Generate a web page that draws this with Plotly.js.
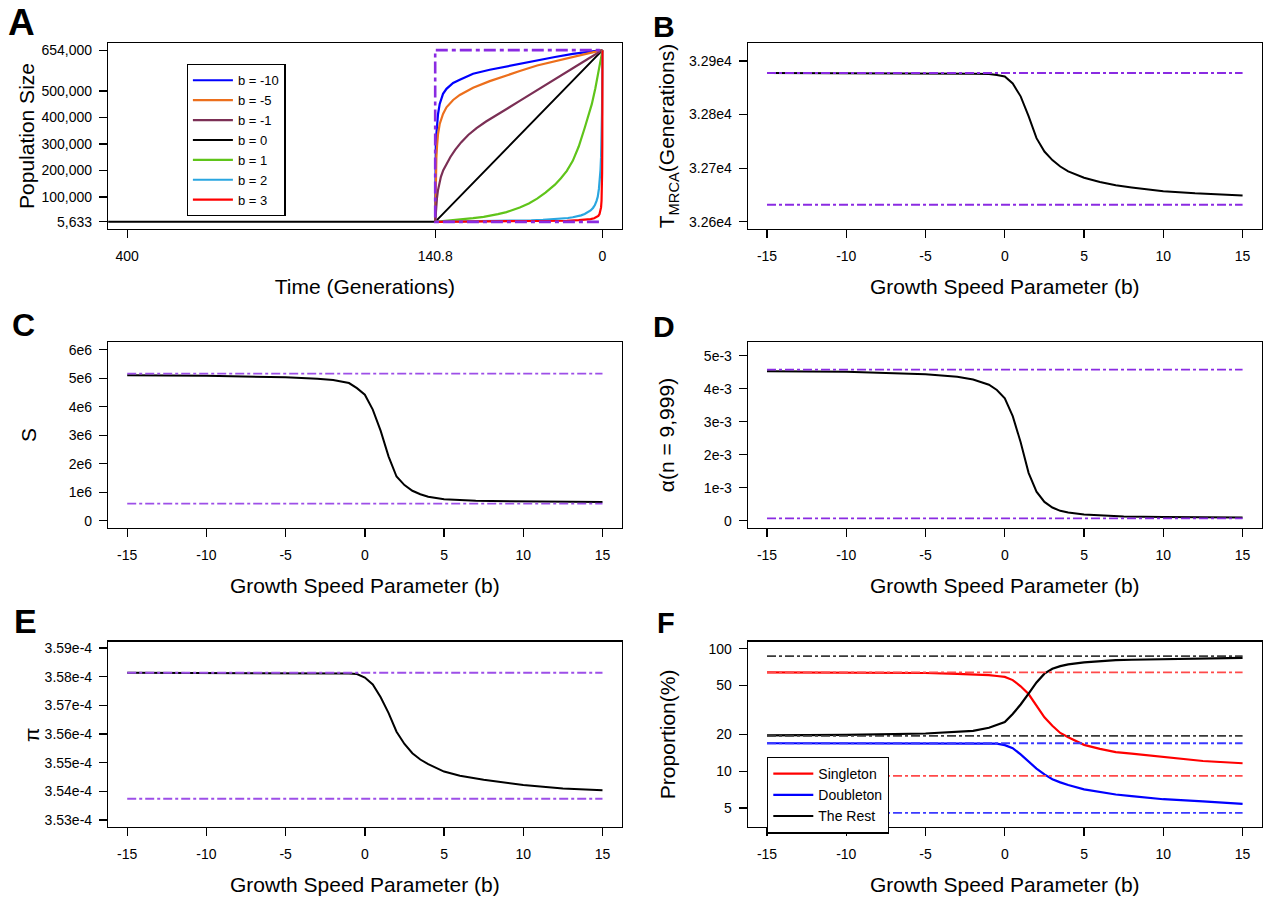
<!DOCTYPE html>
<html><head><meta charset="utf-8">
<script src="https://cdn.plot.ly/plotly-3.0.1.min.js"></script>
<style>html,body{margin:0;padding:0;background:#fff}#chart{width:1266px;height:898px}</style>
</head><body><div id="chart"></div>
<script>
// ---------- Panel A : population size trajectories ----------
const legendLabelsA = ["b = -10", "b = -5", "b = -1", "b = 0", "b = 1", "b = 2", "b = 3"];
const tBm10 = [140.8, 140.75, 140.6, 140.3, 139.8, 139.2, 138.4, 137.0, 134.2, 131.3, 125.7, 120.1, 108.9, 94.9, 80.8, 69.6, 55, 40, 25, 12, 0];
const popBm10 = [5633, 120000, 230000, 290000, 336000, 376000, 413000, 451000, 489000, 508000, 530000, 542000, 565000, 580000, 593000, 603000, 616000, 628000, 640000, 647000, 654000];
const tBm5 = [140.8, 140.7, 140.6, 140.4, 140.2, 139.8, 139.2, 138.4, 137.0, 134.2, 131.3, 125.7, 120.1, 108.9, 94.9, 80.8, 69.6, 55, 40, 25, 12, 0];
const popBm5 = [5633, 65000, 110000, 160000, 200000, 248000, 295000, 337000, 375000, 413000, 438000, 466000, 485000, 512000, 537000, 559000, 575000, 596000, 613000, 628000, 642000, 654000];
const tBm1 = [140.8, 140.5, 140.0, 139.3, 138.5, 137.5, 136.0, 134.0, 131.3, 128.0, 124.0, 119.0, 113.0, 106.0, 98.0, 90.0, 80.0, 70.0, 55.0, 40.0, 25.0, 12.0, 0];
const popBm1 = [5633, 30600, 60600, 95600, 123600, 150600, 175600, 200600, 225600, 250600, 277600, 305600, 333600, 359600, 384600, 407600, 433600, 461600, 503600, 545600, 585600, 621600, 654000];
const tB0 = [420, 140.8, 0];
const popB0 = [5633, 5633, 654000];
const tB1 = [140.8, 130, 122.9, 115, 108.9, 100, 94.9, 88, 80.8, 75, 69.6, 62, 55, 48, 40, 35, 30, 25, 20, 15, 12, 9, 6, 3, 0];
const popB1 = [5633, 9500, 13000, 16500, 19500, 24500, 28500, 34500, 42500, 51000, 60000, 75000, 93000, 116000, 146000, 170000, 198000, 236000, 290000, 360000, 405000, 450000, 510000, 575000, 654000];
const tB2 = [140.8, 120, 100, 85, 70, 60, 50, 42, 35, 29, 25, 21, 18, 15, 12, 10, 8, 6.5, 5, 4, 3, 2.3, 1.7, 1.2, 0.8, 0.4, 0];
const popB2 = [5633, 6500, 7500, 8600, 10000, 11300, 13000, 14800, 17200, 20000, 23000, 26500, 30000, 35000, 42000, 48500, 58000, 68000, 85000, 100000, 130000, 160000, 200000, 250000, 310000, 420000, 654000];
const tB3 = [140.8, 100, 70, 45, 30, 20, 14, 10, 7, 5, 3.5, 2.5, 1.8, 1.2, 0.8, 0.5, 0.3, 0.15, 0];
const popB3 = [5633, 6200, 7000, 8300, 9800, 11800, 13800, 16000, 19000, 23000, 28000, 35000, 44000, 60000, 85000, 125000, 190000, 300000, 654000];
const tLimit = [3, 140.8, 140.8, 0];
const popLimit = [5633, 5633, 654000, 654000];
const xTicksA = [400, 140.8, 0];
const xTickTextA = ["400", "140.8", "0"];
const yTicksA = [5633, 100000, 200000, 300000, 400000, 500000, 654000];
const yTickTextA = ["5,633", "100,000", "200,000", "300,000", "400,000", "500,000", "654,000"];

// ---------- Panels B-F : statistics vs growth speed parameter b ----------
const bTicks = [-15, -10, -5, 0, 5, 10, 15];
const bTickText = ["-15", "-10", "-5", "0", "5", "10", "15"];
const bLimits = [-15, 15];

const bB = [-15, -10, -5, -4, -3, -2, -1, -0.5, 0, 0.5, 1, 1.5, 2, 2.5, 3, 3.5, 4, 5, 6, 7, 8, 10, 12, 15];
const tmrca = [32877.6, 32877.6, 32877.3, 32876.5, 32876.4, 32876.3, 32875.5, 32874, 32871, 32858, 32834, 32797, 32756, 32731, 32715, 32703, 32694, 32682, 32674, 32668, 32664, 32657, 32653, 32649];
const tmrcaConst = [32877.6, 32877.6];
const tmrcaInst = [32631.7, 32631.7];
const yTicksB = [32600, 32700, 32800, 32900];
const yTickTextB = ["3.26e4", "3.27e4", "3.28e4", "3.29e4"];

const bC = [-15, -10, -5, -4, -3, -2, -1, -0.5, 0, 0.5, 1, 1.5, 2, 2.5, 3, 3.5, 4, 5, 6, 7, 8, 10, 12, 15];
const segSites = [5.10e6, 5.09e6, 5.03e6, 5.01e6, 4.98e6, 4.94e6, 4.83e6, 4.65e6, 4.42e6, 3.90e6, 3.15e6, 2.25e6, 1.55e6, 1.25e6, 1.05e6, 0.93e6, 0.84e6, 0.75e6, 0.72e6, 0.70e6, 0.69e6, 0.68e6, 0.67e6, 0.655e6];
const segConst = [5.158e6, 5.158e6];
const segInst = [0.597e6, 0.597e6];
const yTicksC = [0, 1e6, 2e6, 3e6, 4e6, 5e6, 6e6];
const yTickTextC = ["0", "1e6", "2e6", "3e6", "4e6", "5e6", "6e6"];

const bD = [-15, -10, -5, -3, -2, -1, -0.5, 0, 0.5, 1, 1.5, 2, 2.5, 3, 3.5, 4, 5, 6, 7.5, 10, 12, 15];
const alphaN = [4.53e-3, 4.51e-3, 4.44e-3, 4.36e-3, 4.28e-3, 4.12e-3, 3.96e-3, 3.71e-3, 3.17e-3, 2.38e-3, 1.45e-3, 0.88e-3, 0.57e-3, 0.40e-3, 0.30e-3, 0.25e-3, 0.19e-3, 0.16e-3, 0.13e-3, 0.11e-3, 0.105e-3, 0.10e-3];
const alphaConst = [4.576e-3, 4.576e-3];
const alphaInst = [0.073e-3, 0.073e-3];
const yTicksD = [0, 1e-3, 2e-3, 3e-3, 4e-3, 5e-3];
const yTickTextD = ["0", "1e-3", "2e-3", "3e-3", "4e-3", "5e-3"];

const bE = [-15, -10, -8, -5, -2, -1, -0.5, 0, 0.5, 1, 1.5, 2, 2.5, 3, 3.5, 4, 5, 6, 7.5, 10, 12.5, 15];
const piVals = [3.58136e-4, 3.58130e-4, 3.58125e-4, 3.5812e-4, 3.5812e-4, 3.5811e-4, 3.5809e-4, 3.5797e-4, 3.5773e-4, 3.5728e-4, 3.5673e-4, 3.5608e-4, 3.5565e-4, 3.5533e-4, 3.5511e-4, 3.5495e-4, 3.5469e-4, 3.5454e-4, 3.5440e-4, 3.5422e-4, 3.5410e-4, 3.5404e-4];
const piConst = [3.58136e-4, 3.58136e-4];
const piInst = [3.53741e-4, 3.53741e-4];
const yTicksE = [3.53e-4, 3.54e-4, 3.55e-4, 3.56e-4, 3.57e-4, 3.58e-4, 3.59e-4];
const yTickTextE = ["3.53e-4", "3.54e-4", "3.55e-4", "3.56e-4", "3.57e-4", "3.58e-4", "3.59e-4"];

const bF = [-15, -10, -5, -3, -2, -1, -0.5, 0, 0.5, 1, 1.5, 2, 2.5, 3, 3.5, 4, 5, 6, 7, 8, 10, 12.5, 15];
const singleton = [64.1, 64.0, 63.3, 62.3, 61.8, 60.8, 59.8, 58.8, 55.4, 49.3, 42.6, 34.0, 27.5, 23.5, 20.5, 18.9, 16.4, 15.2, 14.3, 13.9, 13.1, 12.1, 11.6];
const doubleton = [16.9, 16.9, 16.9, 16.9, 16.9, 16.85, 16.8, 16.3, 15.4, 13.7, 11.9, 10.5, 9.4, 8.6, 8.1, 7.7, 7.1, 6.75, 6.45, 6.25, 5.9, 5.67, 5.41];
const theRest = [19.6, 19.8, 20.3, 20.8, 21.3, 22.6, 23.8, 25.2, 29.3, 35.0, 43.0, 53.0, 62.5, 68.5, 72.0, 74.5, 77.3, 79.3, 80.5, 81.2, 82.3, 83.3, 84.0];
const singletonConst = [64.1, 64.1], singletonInst = [9.16, 9.16];
const doubletonConst = [16.9, 16.9], doubletonInst = [4.57, 4.57];
const restConst = [19.4, 19.4], restInst = [87.0, 87.0];
const legendLabelsF = ["Singleton", "Doubleton", "The Rest"];
const yTicksF = [5, 10, 20, 50, 100];
const yTickTextF = ["5", "10", "20", "50", "100"];

// ---------- styling ----------
const FONT = "Arial, 'Liberation Sans', Helvetica, sans-serif";
const PURPLE = "#8a2be2";
const PURPLE_L = "#9d4fe8";
const DASHDOT = "9px,3px,3px,3px";
const W = 1266, H = 898;
const px = v => v / W;
const py = v => 1 - v / H;
const colL = [px(108.2), px(621.5)];
const colR = [px(748), px(1261.6)];
const row1 = [py(228.7), py(43.3)];
const row2 = [py(528), py(342)];
const row3 = [py(827), py(641.7)];

function line(x, y, color, width, dash, xa, ya, name, legend) {
  const t = {x: x, y: y, type: 'scatter', mode: 'lines', xaxis: xa, yaxis: ya,
    line: {color: color, width: width, dash: dash || 'solid'}, hoverinfo: 'skip', showlegend: false};
  if (name) { t.name = name; t.showlegend = true; t.legend = legend; }
  return t;
}

const data = [
  line(tB0, popB0, '#000000', 2, null, 'x', 'y', legendLabelsA[3], 'legend'),
  line(tBm10, popBm10, '#0000ff', 2.2, null, 'x', 'y', legendLabelsA[0], 'legend'),
  line(tBm5, popBm5, '#ec6f1c', 2.2, null, 'x', 'y', legendLabelsA[1], 'legend'),
  line(tBm1, popBm1, '#7b2f55', 2.2, null, 'x', 'y', legendLabelsA[2], 'legend'),
  line(tB1, popB1, '#5fc41a', 2.2, null, 'x', 'y', legendLabelsA[4], 'legend'),
  line(tB2, popB2, '#2aa6e0', 2.2, null, 'x', 'y', legendLabelsA[5], 'legend'),
  line(tB3, popB3, '#ff0000', 2.2, null, 'x', 'y', legendLabelsA[6], 'legend'),
  line(tLimit, popLimit, PURPLE, 2.6, "12px,4px,4px,4px", 'x', 'y'),

  line(bB, tmrca, '#000000', 2, null, 'x2', 'y2'),
  line(bLimits, tmrcaConst, PURPLE, 1.8, DASHDOT, 'x2', 'y2'),
  line(bLimits, tmrcaInst, PURPLE, 1.8, DASHDOT, 'x2', 'y2'),

  line(bC, segSites, '#000000', 2, null, 'x3', 'y3'),
  line(bLimits, segConst, PURPLE_L, 1.8, DASHDOT, 'x3', 'y3'),
  line(bLimits, segInst, PURPLE_L, 1.8, DASHDOT, 'x3', 'y3'),

  line(bD, alphaN, '#000000', 2, null, 'x4', 'y4'),
  line(bLimits, alphaConst, PURPLE, 1.8, DASHDOT, 'x4', 'y4'),
  line(bLimits, alphaInst, PURPLE, 1.8, DASHDOT, 'x4', 'y4'),

  line(bE, piVals, '#000000', 2, null, 'x5', 'y5'),
  line(bLimits, piConst, PURPLE_L, 1.8, DASHDOT, 'x5', 'y5'),
  line(bLimits, piInst, PURPLE_L, 1.8, DASHDOT, 'x5', 'y5'),

  line(bF, singleton, '#ff0000', 2.2, null, 'x6', 'y6', legendLabelsF[0], 'legend2'),
  line(bF, doubleton, '#0000ff', 2.2, null, 'x6', 'y6', legendLabelsF[1], 'legend2'),
  line(bF, theRest, '#000000', 2.2, null, 'x6', 'y6', legendLabelsF[2], 'legend2'),
  line(bLimits, singletonConst, '#ff4a4a', 1.8, DASHDOT, 'x6', 'y6'),
  line(bLimits, singletonInst, '#ff4a4a', 1.8, DASHDOT, 'x6', 'y6'),
  line(bLimits, doubletonConst, '#3a3aff', 1.8, DASHDOT, 'x6', 'y6'),
  line(bLimits, doubletonInst, '#3a3aff', 1.8, DASHDOT, 'x6', 'y6'),
  line(bLimits, restConst, '#3a3a3a', 1.8, DASHDOT, 'x6', 'y6'),
  line(bLimits, restInst, '#3a3a3a', 1.8, DASHDOT, 'x6', 'y6')
];

function xax(domain, anchor, range, tv, tt, title) {
  return {domain: domain, anchor: anchor, range: range, tickmode: 'array', tickvals: tv, ticktext: tt,
    showline: true, mirror: true, linecolor: '#000', linewidth: 1.3, ticks: 'outside', ticklen: 8,
    tickwidth: 1.3, tickcolor: '#000', showgrid: false, zeroline: false, ticklabelstandoff: 6,
    tickfont: {family: FONT, size: 14, color: '#000'},
    title: {text: title, font: {family: FONT, size: 21, color: '#000'}, standoff: 16}};
}
function yax(domain, anchor, range, tv, tt, title, standoff, type) {
  const ax = {domain: domain, anchor: anchor, range: range, type: type || 'linear', tickmode: 'array', tickvals: tv, ticktext: tt,
    showline: true, mirror: true, linecolor: '#000', linewidth: 1.3, ticks: 'outside', ticklen: 8,
    tickwidth: 1.3, tickcolor: '#000', showgrid: false, zeroline: false, ticklabelstandoff: 4,
    tickfont: {family: FONT, size: 14, color: '#000'}};
  if (title) ax.title = {text: title, font: {family: FONT, size: 21, color: '#000'}, standoff: standoff};
  return ax;
}
const xTitleB = "Growth Speed Parameter (b)";

const legendStyle = {xanchor: 'left', yanchor: 'top', bgcolor: '#fff', bordercolor: '#000',
  borderwidth: 1.3, itemwidth: 40, tracegroupgap: 0, traceorder: 'normal'};

const panelLabels = [
  {text: "<b>A</b>", x: px(21), y: py(22.5), size: 37},
  {text: "<b>B</b>", x: px(664.5), y: py(26), size: 30},
  {text: "<b>C</b>", x: px(23.6), y: py(325), size: 32},
  {text: "<b>D</b>", x: px(663.5), y: py(326), size: 30},
  {text: "<b>E</b>", x: px(25), y: py(620.5), size: 34},
  {text: "<b>F</b>", x: px(665.5), y: py(623), size: 29}
].map(a => ({text: a.text, x: a.x, y: a.y, xref: 'paper', yref: 'paper', xanchor: 'center', yanchor: 'middle',
  showarrow: false, font: {family: FONT, size: a.size, color: '#000'}}));

// y-axis title of panel E (placed explicitly to sit where the reference puts it)
panelLabels.push({text: "π", x: px(31.5), y: py(734.5), xref: 'paper', yref: 'paper', xanchor: 'center', yanchor: 'middle',
  textangle: -90, showarrow: false, font: {family: FONT, size: 21, color: '#000'}});

const layout = {
  width: W, height: H, margin: {l: 0, r: 0, t: 0, b: 0}, paper_bgcolor: '#fff', plot_bgcolor: '#fff',
  font: {family: FONT, color: '#000'},
  xaxis: xax(colL, 'y', [416, -16], xTicksA, xTickTextA, "Time (Generations)"),
  yaxis: yax(row1, 'x', [-20300, 679900], yTicksA, yTickTextA, "Population Size", 1),
  xaxis2: xax(colR, 'y2', [-16.2, 16.2], bTicks, bTickText, xTitleB),
  yaxis2: yax(row1, 'x2', [32587, 32933], yTicksB, yTickTextB, "T<sub>MRCA</sub>(Generations)", 8),
  xaxis3: xax(colL, 'y3', [-16.2, 16.2], bTicks, bTickText, xTitleB),
  yaxis3: yax(row2, 'x3', [-0.256e6, 6.27e6], yTicksC, yTickTextC, "S", 26),
  xaxis4: xax(colR, 'y4', [-16.2, 16.2], bTicks, bTickText, xTitleB),
  yaxis4: yax(row2, 'x4', [-0.221e-3, 5.415e-3], yTicksD, yTickTextD, "α(n = 9,999)", 23),
  xaxis5: xax(colL, 'y5', [-16.2, 16.2], bTicks, bTickText, xTitleB),
  yaxis5: yax(row3, 'x5', [3.52755e-4, 3.5922e-4], yTicksE, yTickTextE, null, 0),
  xaxis6: xax(colR, 'y6', [-16.2, 16.2], bTicks, bTickText, xTitleB),
  yaxis6: yax(row3, 'x6', [0.544, 2.057], yTicksF, yTickTextF, "Proportion(%)", 27, 'log'),
  legend: Object.assign({x: px(186.6), y: py(64), font: {family: FONT, size: 13, color: '#000'}}, legendStyle),
  legend2: Object.assign({x: px(767), y: py(756.7), font: {family: FONT, size: 14, color: '#000'}}, legendStyle),
  annotations: panelLabels
};

// legend A order: b=-10 ... b=3 (black trace drawn first but listed 4th)
data[0].legendrank = 4; data[1].legendrank = 1; data[2].legendrank = 2; data[3].legendrank = 3;
data[4].legendrank = 5; data[5].legendrank = 6; data[6].legendrank = 7;

Plotly.newPlot('chart', data, layout, {staticPlot: true, displayModeBar: false});
</script>
</body></html>
